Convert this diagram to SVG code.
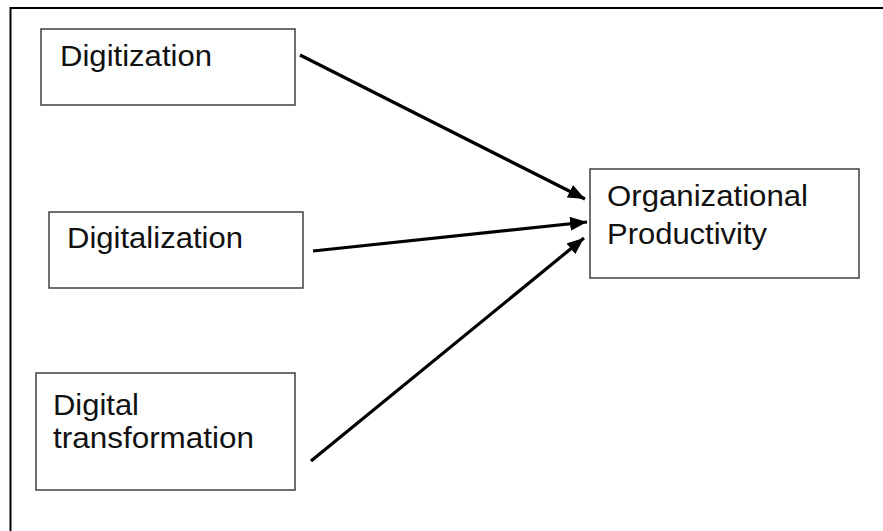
<svg xmlns="http://www.w3.org/2000/svg" width="883" height="531" viewBox="0 0 883 531">
<style>
.frame{fill:none;stroke:#000;stroke-width:2}
.box{fill:#fff;stroke:#404040;stroke-width:1.5}
.lbl{font-family:"Liberation Sans",Arial,sans-serif;font-size:29px;fill:#111}
.conn{stroke:#000;stroke-width:3.2;fill:none;marker-end:url(#ah)}
</style>
<defs>
<marker id="ah" markerUnits="userSpaceOnUse" markerWidth="18" markerHeight="14" refX="17" refY="7" orient="auto">
<path d="M0,0 L17,7 L0,14 Z" fill="#000"/>
</marker>
</defs>
<rect width="883" height="531" fill="#fff"/>
<path class="frame" d="M10.5,531 V8 H883"/>
<g id="digitization">
<rect class="box" x="41" y="29" width="254" height="76"/>
<text class="lbl" x="60" y="66" textLength="152" lengthAdjust="spacingAndGlyphs">Digitization</text>
</g>
<g id="digitalization">
<rect class="box" x="49" y="212" width="254" height="76"/>
<text class="lbl" x="67" y="248" textLength="176" lengthAdjust="spacingAndGlyphs">Digitalization</text>
</g>
<g id="digital-transformation">
<rect class="box" x="36" y="373" width="259" height="117"/>
<text class="lbl" x="53" y="415" textLength="86" lengthAdjust="spacingAndGlyphs">Digital</text>
<text class="lbl" x="53" y="448" textLength="201" lengthAdjust="spacingAndGlyphs">transformation</text>
</g>
<g id="organizational-productivity">
<rect class="box" x="590" y="169" width="269" height="109"/>
<text class="lbl" x="607" y="206" textLength="201" lengthAdjust="spacingAndGlyphs">Organizational</text>
<text class="lbl" x="607" y="244" textLength="160" lengthAdjust="spacingAndGlyphs">Productivity</text>
</g>
<g id="connectors">
<line class="conn" x1="300" y1="55" x2="585" y2="199"/>
<line class="conn" x1="313" y1="251" x2="587" y2="222"/>
<line class="conn" x1="311" y1="461" x2="584" y2="238"/>
</g>
</svg>
